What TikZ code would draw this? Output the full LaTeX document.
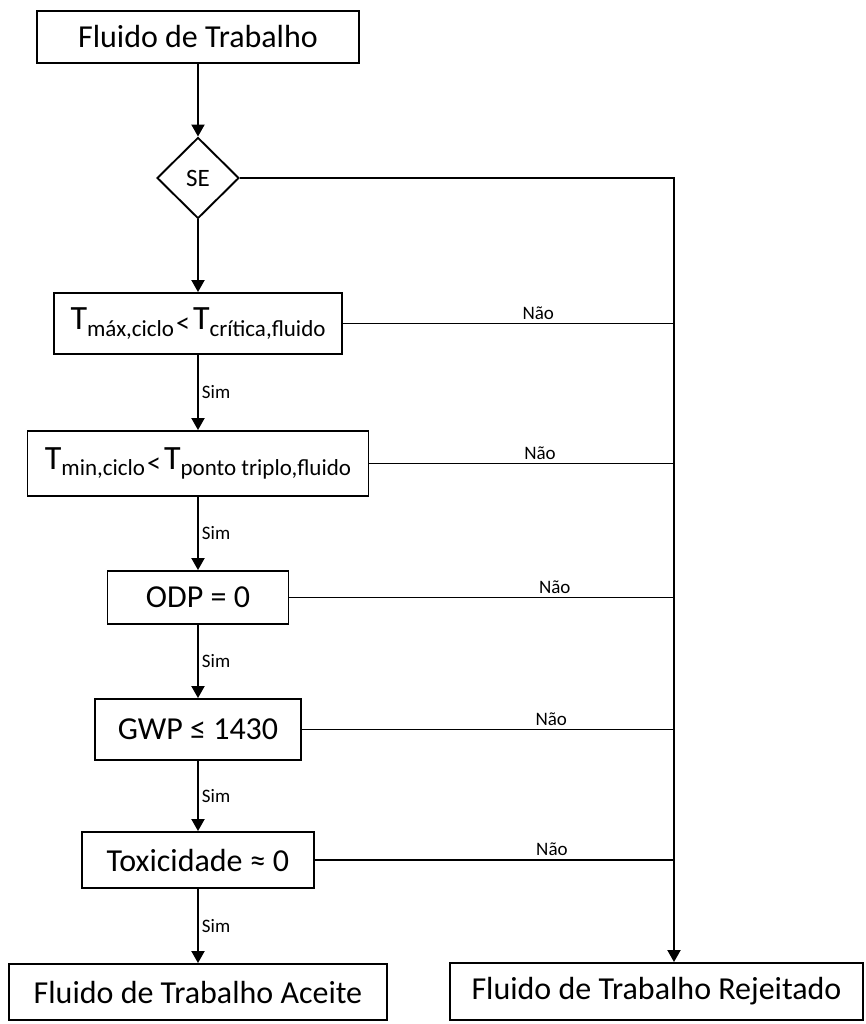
\documentclass[tikz,border=0pt]{standalone}
\usepackage{fontspec}
\setmainfont{Carlito}
\usetikzlibrary{shapes.geometric, arrows.meta, positioning}
\newcommand{\bigT}{{\fontsize{17}{20}\selectfont T}}
\newcommand{\subtxt}[1]{\raisebox{-0.4ex}{\fontsize{11.5}{13}\selectfont #1}}
\newcommand{\lesstxt}{\raisebox{-0.2ex}{\fontsize{14}{16}\selectfont <}}

\begin{document}
\begin{tikzpicture}[x=0.5pt, y=-0.5pt, line width=0.95pt,
  box/.style={draw, rectangle, inner sep=0pt, font=\fontsize{16}{19}\selectfont},
  decision/.style={draw, diamond, inner sep=0pt, minimum width=41pt, minimum height=40.5pt, font=\fontsize{12.5}{14}\selectfont},
  flow/.style={-{Triangle[width=6.5pt, length=6pt]}},
  lbl/.style={font=\fontsize{9.5}{11}\selectfont, inner sep=1.5pt}]
  \useasboundingbox (0,0) rectangle (866,1024);

  % ---- Blocos ----
  \node[box, minimum width=161pt, minimum height=26pt] (start) at (198,37) {Fluido de Trabalho};
  \node[decision] (se) at (198,178) {SE};
  \node[box, minimum width=144pt, minimum height=30.5pt] (tmax) at (198,323.5)
    {\bigT\subtxt{máx,ciclo}\kern1pt\lesstxt\kern1.5pt\bigT\subtxt{crítica,fluido}};
  \node[box, minimum width=170.5pt, minimum height=32.5pt] (tmin) at (198,463.5)
    {\bigT\subtxt{min,ciclo}\kern1pt\lesstxt\kern1.5pt\bigT\subtxt{ponto triplo,fluido}};
  \node[box, minimum width=90.5pt, minimum height=26.5pt] (odp) at (198,597.5) {ODP = 0};
  \node[box, minimum width=103pt, minimum height=30.5pt] (gwp) at (198,729.5) {GWP ≤ 1430};
  \node[box, minimum width=116pt, minimum height=28pt] (tox) at (198,860) {Toxicidade ≈ 0};
  \node[box, minimum width=189pt, minimum height=28pt] (aceite) at (198,992) {Fluido de Trabalho Aceite};
  \node[box, minimum width=206.5pt, minimum height=28.5pt] (rej) at (656.5,991.5) {Fluido de Trabalho Rejeitado};
  \coordinate (spine) at (674,178);

  % ---- Sim ----
  \draw[flow] (start) -- (se);
  \draw[flow] (se) -- (tmax);
  \foreach \a/\b in {tmax/tmin, tmin/odp, odp/gwp, gwp/tox, tox/aceite}
    \draw[flow] (\a) -- (\b) node[midway, right, lbl] {Sim};

  % ---- Não ----
  \draw[flow] (se.east) -- (spine) -- (rej.north -| spine);
  \foreach \n/\p in {tmax/0.59, tmin/0.56, odp/0.69, gwp/0.67, tox/0.66}
    \draw (\n.east) -- (\n.east -| spine) node[pos=\p, above, lbl] {Não};
\end{tikzpicture}
\end{document}
